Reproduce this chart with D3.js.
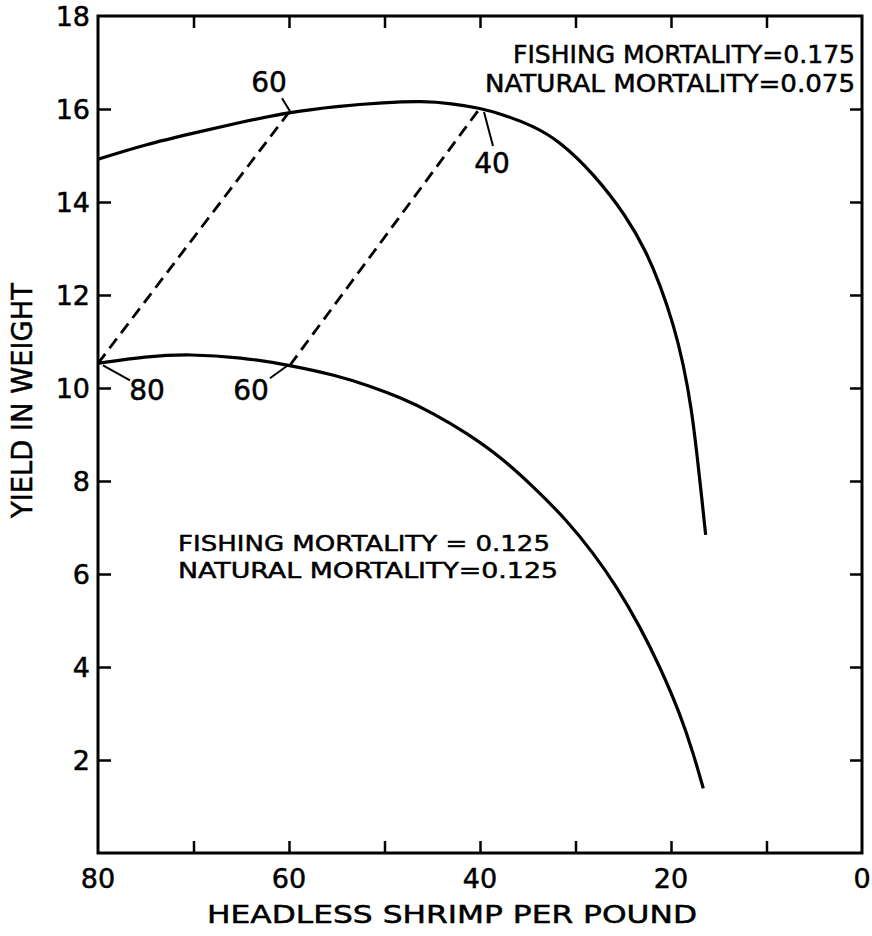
<!DOCTYPE html>
<html>
<head>
<meta charset="utf-8">
<script src="https://cdn.jsdelivr.net/npm/d3@7"></script>
<style>
  html, body { margin: 0; padding: 0; background: #fff; }
  svg { display: block; }
  text { font-family: "DejaVu Sans", "Liberation Sans", sans-serif; fill: #000; stroke: #000; stroke-width: 0.5px; }
</style>
</head>
<body>
<svg id="chart" width="872" height="936"></svg>
<script>
// ---- data ----
const upperX = [80, 75, 70, 65, 60, 55, 50, 46, 43, 40, 37.9, 34.4, 31.62, 28.14, 24.64, 22.54, 21.15, 19.76, 18.71, 17.83, 17.25, 16.79, 16.37];
const upperY = [14.92, 15.24, 15.48, 15.72, 15.93, 16.06, 16.14, 16.17, 16.12, 16.02, 15.9, 15.64, 15.3, 14.62, 13.69, 12.91, 12.22, 11.38, 10.53, 9.53, 8.52, 7.66, 6.84];
const lowerX = [80, 75, 70.4, 65, 59.9, 55, 51.5, 48.38, 44.89, 41.39, 37.91, 34.42, 30.92, 28.14, 25.69, 23.25, 21.15, 19.06, 17.66, 16.62];
const lowerY = [10.53, 10.68, 10.73, 10.66, 10.49, 10.27, 10.04, 9.8, 9.46, 9.03, 8.53, 7.88, 7.16, 6.45, 5.73, 4.87, 4.0, 3.0, 2.14, 1.39];
const dash1X = [80, 60];
const dash1Y = [10.53, 15.93];
const dash2X = [59.9, 40];
const dash2Y = [10.49, 16.02];
const xTickLabels = [80, 60, 40, 20, 0];
const xMinorTicks = [70, 60, 50, 40, 30, 20, 10];
const yTickLabels = [2, 4, 6, 8, 10, 12, 14, 16, 18];
const yTicks = [2, 4, 6, 8, 10, 12, 14, 16];
const pointLabels = ["60", "40", "80", "60"];
const upperNote = ["FISHING  MORTALITY=0.175", "NATURAL  MORTALITY=0.075"];
const lowerNote = ["FISHING  MORTALITY = 0.125", "NATURAL  MORTALITY=0.125"];
const xTitle = "HEADLESS  SHRIMP  PER  POUND";
const yTitle = "YIELD  IN  WEIGHT";

// ---- scales ----
const x = d3.scaleLinear().domain([80, 0]).range([98, 862]);
const y = d3.scaleLinear().domain([0, 18]).range([853, 16]);
const svg = d3.select("#chart");

// frame
svg.append("rect")
  .attr("x", x(80)).attr("y", y(18))
  .attr("width", x(0) - x(80)).attr("height", y(0) - y(18))
  .attr("fill", "none").attr("stroke", "#000").attr("stroke-width", 3);

// ticks via axes
function styleAxis(g) {
  g.select(".domain").remove();
  g.selectAll("line").attr("stroke", "#000").attr("stroke-width", 2.5);
}
svg.append("g").attr("transform", `translate(0,${y(0)})`)
  .call(d3.axisTop(x).tickValues(xMinorTicks).tickSize(12).tickFormat(""))
  .call(styleAxis);
svg.append("g").attr("transform", `translate(0,${y(18)})`)
  .call(d3.axisBottom(x).tickValues(xMinorTicks).tickSize(12).tickFormat(""))
  .call(styleAxis);
svg.append("g").attr("transform", `translate(${x(80)},0)`)
  .call(d3.axisRight(y).tickValues(yTicks).tickSize(13).tickFormat(""))
  .call(styleAxis);
svg.append("g").attr("transform", `translate(${x(0)},0)`)
  .call(d3.axisLeft(y).tickValues(yTicks).tickSize(12).tickFormat(""))
  .call(styleAxis);

// tick labels
svg.append("g").selectAll("text").data(xTickLabels).join("text")
  .attr("x", d => x(d)).attr("y", 888)
  .attr("text-anchor", "middle").attr("font-size", 27)
  .text(d => d);
svg.append("g").selectAll("text").data(yTickLabels).join("text")
  .attr("x", 90).attr("y", d => y(d) + 9.5)
  .attr("text-anchor", "end").attr("font-size", 27)
  .text(d => d);

// axis titles
svg.append("text").attr("x", 207).attr("y", 923)
  .attr("font-size", 25).attr("textLength", 490).attr("lengthAdjust", "spacingAndGlyphs")
  .text(xTitle);
svg.append("text").attr("transform", "translate(32,518) rotate(-90)")
  .attr("font-size", 29).attr("textLength", 235).attr("lengthAdjust", "spacingAndGlyphs")
  .text(yTitle);

// curves
const line = d3.line().x(d => x(d[0])).y(d => y(d[1])).curve(d3.curveBasis);
svg.append("path").datum(d3.zip(upperX, upperY))
  .attr("d", line).attr("fill", "none").attr("stroke", "#000").attr("stroke-width", 3.2);
svg.append("path").datum(d3.zip(lowerX, lowerY))
  .attr("d", line).attr("fill", "none").attr("stroke", "#000").attr("stroke-width", 3.2);

// dashed connectors
const straight = d3.line().x(d => x(d[0])).y(d => y(d[1]));
[[dash1X, dash1Y], [dash2X, dash2Y]].forEach(([dx, dy]) => {
  svg.append("path").datum(d3.zip(dx, dy))
    .attr("d", straight).attr("fill", "none").attr("stroke", "#000")
    .attr("stroke-width", 2.8).attr("stroke-dasharray", "12,7");
});

// point labels with leader lines
const anchors = [[dash1X[1], dash1Y[1]], [dash2X[1], dash2Y[1]], [dash1X[0], dash1Y[0]], [dash2X[0], dash2Y[0]]];
const offsets = [
  { tx: -20, ty: -20, lx1: -7, ly1: -14, lx2: 1, ly2: -1 },
  { tx: 12, ty: 65, lx1: 13, ly1: 38, lx2: 4, ly2: 4 },
  { tx: 49, ty: 37, lx1: 32, ly1: 17, lx2: 5, ly2: 2 },
  { tx: -39, ty: 35, lx1: -20, ly1: 13, lx2: -2, ly2: 0 }
];
pointLabels.forEach((t, i) => {
  const [ax, ay] = anchors[i];
  const o = offsets[i];
  const px = x(ax), py = y(ay);
  svg.append("text").attr("x", px + o.tx).attr("y", py + o.ty)
    .attr("text-anchor", "middle").attr("font-size", 28).text(t);
  svg.append("line")
    .attr("x1", px + o.lx1).attr("y1", py + o.ly1)
    .attr("x2", px + o.lx2).attr("y2", py + o.ly2)
    .attr("stroke", "#000").attr("stroke-width", 2);
});

// notes
svg.append("text").attr("x", 513).attr("y", 63).attr("font-size", 24)
  .attr("textLength", 342).attr("lengthAdjust", "spacingAndGlyphs").text(upperNote[0]);
svg.append("text").attr("x", 485).attr("y", 92).attr("font-size", 24)
  .attr("textLength", 370).attr("lengthAdjust", "spacingAndGlyphs").text(upperNote[1]);
svg.append("text").attr("x", 178).attr("y", 551).attr("font-size", 22)
  .attr("textLength", 372).attr("lengthAdjust", "spacingAndGlyphs").text(lowerNote[0]);
svg.append("text").attr("x", 178).attr("y", 578).attr("font-size", 22)
  .attr("textLength", 380).attr("lengthAdjust", "spacingAndGlyphs").text(lowerNote[1]);
</script>
</body>
</html>
